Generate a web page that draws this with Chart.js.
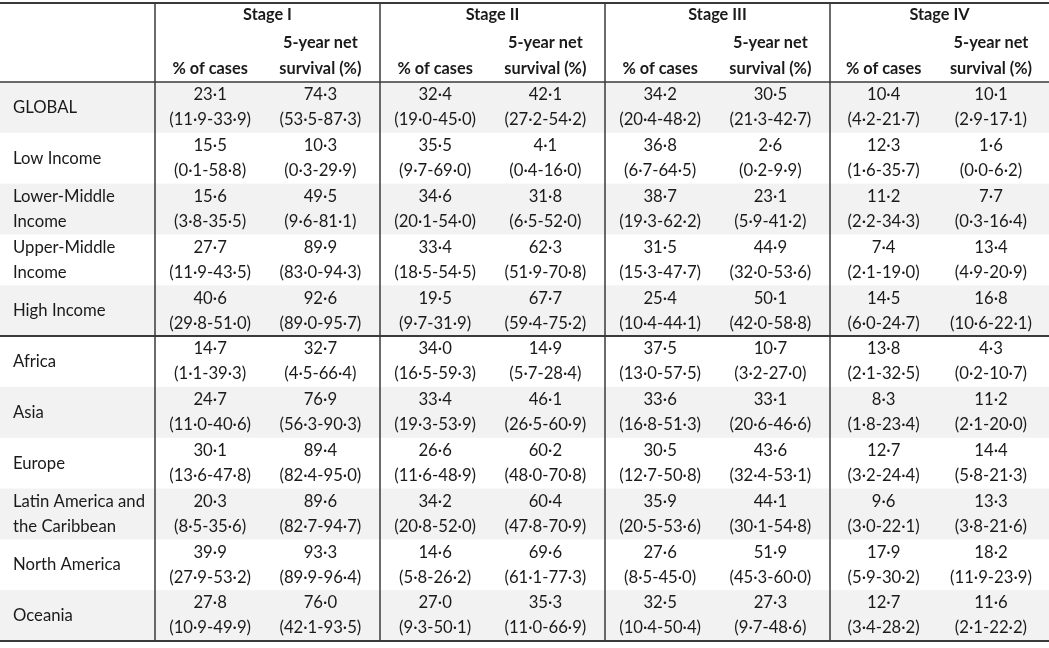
<!DOCTYPE html>
<html>
<head>
<meta charset="utf-8">
<title>Stage distribution and 5-year net survival</title>
<script src="https://cdn.jsdelivr.net/npm/chart.js@4.4.1/dist/chart.umd.min.js"></script>
<style>
    html, body { margin: 0; padding: 0; background: #fff; }
    #wrap { width: 1049px; height: 648px; position: relative; }
</style>
</head>
<body>
<div id="wrap"><canvas id="tableChart"></canvas></div>
<script>
// ===== data =====
const rowLabels = [
    ["GLOBAL"], ["Low Income"], ["Lower-Middle", "Income"], ["Upper-Middle", "Income"],
    ["High Income"], ["Africa"], ["Asia"], ["Europe"],
    ["Latin America and", "the Caribbean"], ["North America"], ["Oceania"]
];
const stageLabels = ["Stage I", "Stage II", "Stage III", "Stage IV"];
const casesHeader = ["", "% of cases"];
const survivalHeader = ["5-year net", "survival (%)"];

// [estimate, lower, upper] per row
const stage1Cases = [[23.1, 11.9, 33.9], [15.5, 0.1, 58.8], [15.6, 3.8, 35.5], [27.7, 11.9, 43.5], [40.6, 29.8, 51.0],
    [14.7, 1.1, 39.3], [24.7, 11.0, 40.6], [30.1, 13.6, 47.8], [20.3, 8.5, 35.6], [39.9, 27.9, 53.2], [27.8, 10.9, 49.9]];
const stage1Survival = [[74.3, 53.5, 87.3], [10.3, 0.3, 29.9], [49.5, 9.6, 81.1], [89.9, 83.0, 94.3], [92.6, 89.0, 95.7],
    [32.7, 4.5, 66.4], [76.9, 56.3, 90.3], [89.4, 82.4, 95.0], [89.6, 82.7, 94.7], [93.3, 89.9, 96.4], [76.0, 42.1, 93.5]];
const stage2Cases = [[32.4, 19.0, 45.0], [35.5, 9.7, 69.0], [34.6, 20.1, 54.0], [33.4, 18.5, 54.5], [19.5, 9.7, 31.9],
    [34.0, 16.5, 59.3], [33.4, 19.3, 53.9], [26.6, 11.6, 48.9], [34.2, 20.8, 52.0], [14.6, 5.8, 26.2], [27.0, 9.3, 50.1]];
const stage2Survival = [[42.1, 27.2, 54.2], [4.1, 0.4, 16.0], [31.8, 6.5, 52.0], [62.3, 51.9, 70.8], [67.7, 59.4, 75.2],
    [14.9, 5.7, 28.4], [46.1, 26.5, 60.9], [60.2, 48.0, 70.8], [60.4, 47.8, 70.9], [69.6, 61.1, 77.3], [35.3, 11.0, 66.9]];
const stage3Cases = [[34.2, 20.4, 48.2], [36.8, 6.7, 64.5], [38.7, 19.3, 62.2], [31.5, 15.3, 47.7], [25.4, 10.4, 44.1],
    [37.5, 13.0, 57.5], [33.6, 16.8, 51.3], [30.5, 12.7, 50.8], [35.9, 20.5, 53.6], [27.6, 8.5, 45.0], [32.5, 10.4, 50.4]];
const stage3Survival = [[30.5, 21.3, 42.7], [2.6, 0.2, 9.9], [23.1, 5.9, 41.2], [44.9, 32.0, 53.6], [50.1, 42.0, 58.8],
    [10.7, 3.2, 27.0], [33.1, 20.6, 46.6], [43.6, 32.4, 53.1], [44.1, 30.1, 54.8], [51.9, 45.3, 60.0], [27.3, 9.7, 48.6]];
const stage4Cases = [[10.4, 4.2, 21.7], [12.3, 1.6, 35.7], [11.2, 2.2, 34.3], [7.4, 2.1, 19.0], [14.5, 6.0, 24.7],
    [13.8, 2.1, 32.5], [8.3, 1.8, 23.4], [12.7, 3.2, 24.4], [9.6, 3.0, 22.1], [17.9, 5.9, 30.2], [12.7, 3.4, 28.2]];
const stage4Survival = [[10.1, 2.9, 17.1], [1.6, 0.0, 6.2], [7.7, 0.3, 16.4], [13.4, 4.9, 20.9], [16.8, 10.6, 22.1],
    [4.3, 0.2, 10.7], [11.2, 2.1, 20.0], [14.4, 5.8, 21.3], [13.3, 3.8, 21.6], [18.2, 11.9, 23.9], [11.6, 2.1, 22.2]];

const stageColumns = [
    [stage1Cases, stage1Survival],
    [stage2Cases, stage2Survival],
    [stage3Cases, stage3Survival],
    [stage4Cases, stage4Survival]
];

// ===== layout (table units) =====
const tableW = 1049, tableH = 648;
const topY = 3, headerBottom = 82, bottomY = 641;
const rowH = (bottomY - headerBottom) / rowLabels.length;
const groupBreakAfter = 4;            // thick line after "High Income"
const blockEdges = [155, 380, 605, 830, 1049];
const casesPos = 0.245, survivalPos = 0.735;
const fontName = "Lato, 'Open Sans', sans-serif";
const ink = '#1a1a1a', rule = '#3a3a3a', shade = '#f2f2f2';

function fmt(v) { return v.toFixed(1).replace('.', '\u00b7'); }

function colCenter(stage, which) {
    const a = blockEdges[stage], b = blockEdges[stage + 1];
    return a + (b - a) * (which === 0 ? casesPos : survivalPos);
}

// points for every cell, placed through the chart's scales
const cellPoints = [];
stageColumns.forEach((pair, s) => {
    pair.forEach((arr, w) => {
        arr.forEach((t, r) => {
            cellPoints.push({
                x: colCenter(s, w),
                y: headerBottom + rowH * (r + 0.5),
                main: fmt(t[0]),
                ci: '(' + fmt(t[1]) + '-' + fmt(t[2]) + ')'
            });
        });
    });
});

const tablePlugin = {
    id: 'tablePlugin',
    beforeDatasetsDraw(chart) {
        const ctx = chart.ctx;
        const x = chart.scales.x, y = chart.scales.y;
        const px = v => x.getPixelForValue(v);
        const py = v => y.getPixelForValue(v);
        ctx.save();

        // row shading
        rowLabels.forEach((_, r) => {
            if (r % 2 === 0) {
                const y0 = py(headerBottom + rowH * r), y1 = py(headerBottom + rowH * (r + 1));
                ctx.fillStyle = shade;
                ctx.fillRect(px(0), y0, px(tableW) - px(0), y1 - y0);
            }
        });

        // horizontal rules
        ctx.strokeStyle = rule;
        const hLine = (v, w) => {
            ctx.lineWidth = w;
            ctx.beginPath();
            ctx.moveTo(px(0), py(v));
            ctx.lineTo(px(tableW), py(v));
            ctx.stroke();
        };
        hLine(topY, 2);
        hLine(headerBottom, 1.5);
        hLine(headerBottom + rowH * (groupBreakAfter + 1), 2);
        hLine(bottomY, 2);

        // vertical rules
        ctx.lineWidth = 1.5;
        blockEdges.slice(0, 4).forEach(e => {
            ctx.beginPath();
            ctx.moveTo(px(e), py(topY));
            ctx.lineTo(px(e), py(bottomY));
            ctx.stroke();
        });

        // header
        ctx.fillStyle = ink;
        ctx.textBaseline = 'middle';
        ctx.textAlign = 'center';
        ctx.font = 'bold 16.3px ' + fontName;
        stageLabels.forEach((lab, s) => {
            const cx = (blockEdges[s] + blockEdges[s + 1]) / 2;
            ctx.fillText(lab, px(cx), py(15));
            [casesHeader, survivalHeader].forEach((h, w) => {
                ctx.fillText(h[0], px(colCenter(s, w)), py(43));
                ctx.fillText(h[1], px(colCenter(s, w)), py(69));
            });
        });

        // row labels
        ctx.font = '16.7px ' + fontName;
        ctx.textAlign = 'left';
        rowLabels.forEach((lab, r) => {
            const top = headerBottom + rowH * r;
            if (lab.length === 1) {
                ctx.fillText(lab[0], px(13), py(top + rowH / 2));
            } else {
                ctx.fillText(lab[0], px(13), py(top + 13));
                ctx.fillText(lab[1], px(13), py(top + 38));
            }
        });
        ctx.restore();
    },
    afterDatasetsDraw(chart) {
        const ctx = chart.ctx;
        const meta = chart.getDatasetMeta(0);
        const y = chart.scales.y;
        const off = y.getPixelForValue(12.5) - y.getPixelForValue(0);
        ctx.save();
        ctx.fillStyle = ink;
        ctx.font = '16.7px ' + fontName;
        ctx.textAlign = 'center';
        ctx.textBaseline = 'middle';
        meta.data.forEach((el, i) => {
            const d = chart.data.datasets[0].data[i];
            ctx.fillText(d.main, el.x, el.y - off);
            ctx.fillText(d.ci, el.x, el.y + off);
        });
        ctx.restore();
    }
};

new Chart(document.getElementById('tableChart'), {
    type: 'scatter',
    data: {
        datasets: [{
            data: cellPoints,
            pointRadius: 0,
            pointHoverRadius: 0
        }]
    },
    options: {
        responsive: true,
        maintainAspectRatio: false,
        animation: false,
        layout: { padding: 0 },
        plugins: {
            legend: { display: false },
            tooltip: { enabled: false }
        },
        scales: {
            x: { type: 'linear', min: 0, max: tableW, display: false },
            y: { type: 'linear', min: 0, max: tableH, reverse: true, display: false }
        }
    },
    plugins: [tablePlugin]
});
</script>
</body>
</html>
